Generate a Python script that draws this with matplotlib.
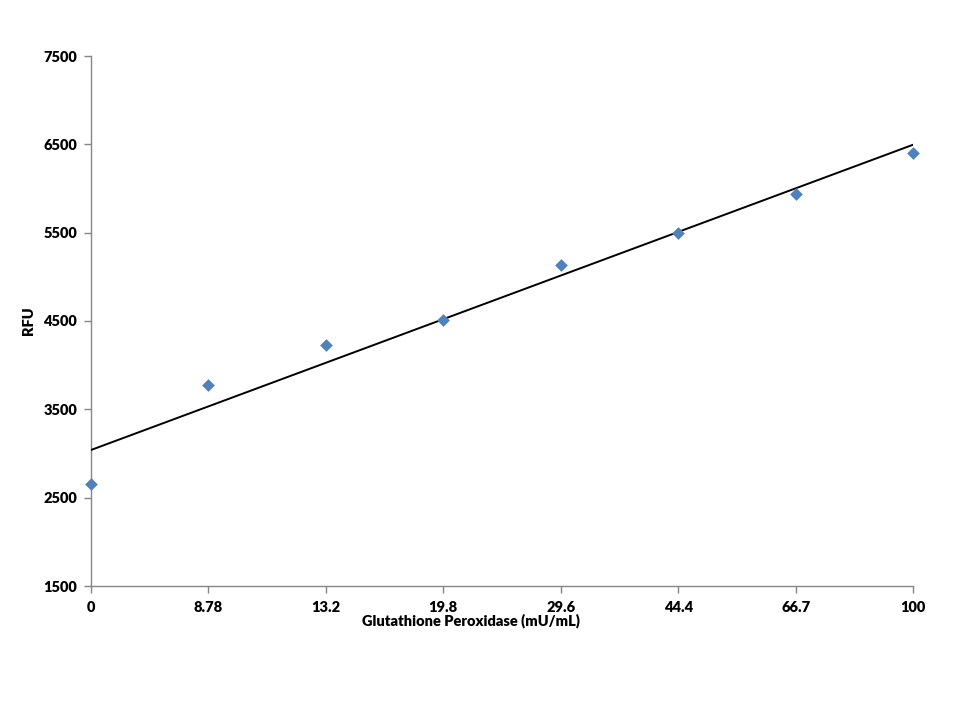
import numpy as np
import matplotlib.pyplot as plt

# Glutathione peroxidase standard curve
conc_labels = ['0', '8.78', '13.2', '19.8', '29.6', '44.4', '66.7', '100']
rfu = [2655, 3776, 4228, 4511, 5134, 5496, 5938, 6402]
y_ticks = [1500, 2500, 3500, 4500, 5500, 6500, 7500]

plt.rcParams['font.family'] = ['Lato', 'DejaVu Sans']
plt.rcParams['font.weight'] = 'heavy'

fig = plt.figure(figsize=(9.6, 7.2), dpi=100)
ax = fig.add_axes([91 / 960, 1 - 586 / 720, (913 - 91) / 960, (586 - 56) / 720])

x = np.arange(len(conc_labels))
ax.scatter(x, rfu, marker='D', s=42, color='#4F81BD', zorder=3, linewidths=0, clip_on=False)

# linear trendline over category index, as Excel does
slope, icpt = np.polyfit(x, rfu, 1)
ax.plot(x[[0, -1]], icpt + slope * x[[0, -1]], color='black', lw=1.4, zorder=2)

ax.set_xlim(0, len(conc_labels) - 1)
ax.set_ylim(1500, 7500)
ax.set_xticks(x)
ax.set_xticklabels(conc_labels)
ax.set_yticks(y_ticks)

for s in ['top', 'right']:
    ax.spines[s].set_visible(False)
for s in ['left', 'bottom']:
    ax.spines[s].set_color('#868686')
    ax.spines[s].set_linewidth(1)
    ax.spines[s].set_zorder(1)
ax.tick_params(axis='both', colors='#868686', labelcolor='black', labelsize=10.5,
               length=5, width=1, direction='out')
ax.tick_params(axis='x', pad=6)
ax.tick_params(axis='y', pad=5)
ax.patch.set_visible(False)

ax.set_xlabel('Glutathione Peroxidase (mU/mL)', fontsize=10.5, fontweight='heavy', labelpad=0)
ax.xaxis.set_label_coords(0.462, -0.052)
ax.set_ylabel('RFU', fontsize=10.5, fontweight='heavy', labelpad=6)

fig.savefig('out.png', dpi=100)
